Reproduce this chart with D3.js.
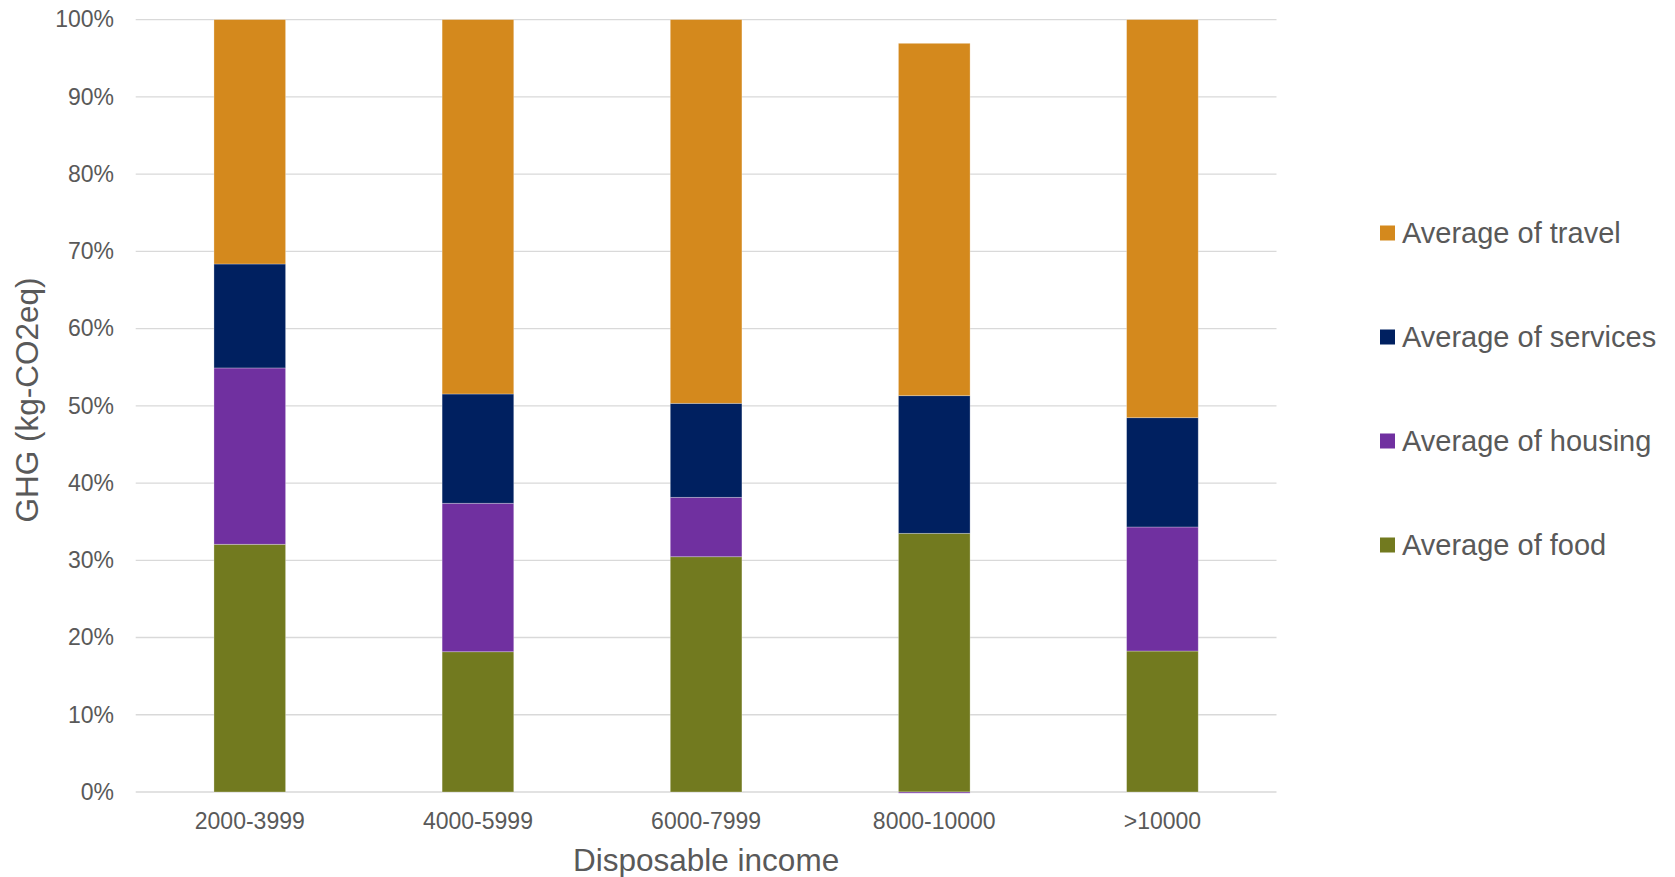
<!DOCTYPE html>
<html>
<head>
<meta charset="utf-8">
<script src="https://cdn.jsdelivr.net/npm/d3@7"></script>
<style>
  html, body { margin: 0; padding: 0; background: #fff; }
  svg { display: block; font-family: "Liberation Sans", Arial, sans-serif; }
</style>
</head>
<body>
<svg id="chart" width="1675" height="877"></svg>
<script>
const categories = ["2000-3999", "4000-5999", "6000-7999", "8000-10000", ">10000"];
const food     = [32.07, 18.16, 30.46, 33.49, 18.25];
const housing  = [22.83, 19.22,  7.69, -0.15, 16.06];
const services = [13.46, 14.15, 12.17, 17.82, 14.15];
const travel   = [31.64, 48.47, 49.68, 45.62, 51.54];
const seriesNames = ["Average of food", "Average of housing", "Average of services", "Average of travel"];
const seriesColors = ["#727A1F", "#7030A0", "#002060", "#D4891D"];
const yTicks = [0, 10, 20, 30, 40, 50, 60, 70, 80, 90, 100];

const keys = ["food", "housing", "services", "travel"];
const rows = categories.map((c, i) => ({
  cat: c, food: food[i], housing: housing[i], services: services[i], travel: travel[i]
}));

const svg = d3.select("#chart");
const margin = { left: 135.7, right: 1276.5, top: 19.6, bottom: 792 };
const textColor = "#595959";

const x = d3.scaleBand().domain(categories).range([margin.left, margin.right]).paddingInner(0.686).paddingOuter(0.343);
const y = d3.scaleLinear().domain([0, 100]).range([margin.bottom, margin.top]);

// gridlines
svg.append("g").selectAll("line").data(yTicks).join("line")
  .attr("x1", margin.left).attr("x2", margin.right)
  .attr("y1", d => y(d)).attr("y2", d => y(d))
  .attr("stroke", "#D9D9D9").attr("stroke-width", 1.3);

// y axis labels
const yAxis = d3.axisLeft(y).tickValues(yTicks).tickFormat(d => d + "%").tickSize(0).tickPadding(0);
const yg = svg.append("g").attr("transform", `translate(114,0)`).call(yAxis);
yg.select(".domain").remove();
yg.selectAll("text").attr("fill", textColor).attr("font-size", 23)
  .attr("font-family", "Liberation Sans, Arial, sans-serif");

// stacked bars
const stack = d3.stack().keys(keys).offset(d3.stackOffsetDiverging);
const stacked = stack(rows);
svg.append("g").selectAll("g").data(stacked).join("g")
  .attr("fill", (d, i) => seriesColors[i])
  .selectAll("rect").data(d => d).join("rect")
  .attr("x", d => x(d.data.cat))
  .attr("width", x.bandwidth())
  .attr("y", d => y(Math.max(d[0], d[1])))
  .attr("height", d => Math.abs(y(d[0]) - y(d[1])))
  .attr("stroke", "#ffffff").attr("stroke-opacity", 0.35).attr("stroke-width", 0.8);

// x axis labels
const xAxis = d3.axisBottom(x).tickSize(0).tickPadding(0);
const xg = svg.append("g").attr("transform", `translate(0,813)`).call(xAxis);
xg.select(".domain").remove();
xg.selectAll("text").attr("fill", textColor).attr("font-size", 23).attr("dy", "0.71em")
  .attr("font-family", "Liberation Sans, Arial, sans-serif");

// axis titles
svg.append("text").attr("x", (margin.left + margin.right) / 2).attr("y", 871)
  .attr("text-anchor", "middle").attr("font-size", 31.5).attr("fill", textColor)
  .text("Disposable income");
svg.append("text").attr("transform", "translate(38,400) rotate(-90)")
  .attr("text-anchor", "middle").attr("font-size", 31.5).attr("fill", textColor)
  .text("GHG (kg-CO2eq)");

// legend (reverse order)
const legendOrder = [3, 2, 1, 0];
const lg = svg.append("g").selectAll("g").data(legendOrder).join("g")
  .attr("transform", (d, i) => `translate(1380,${233 + i * 104})`);
lg.append("rect").attr("x", 0).attr("y", -7.5).attr("width", 15).attr("height", 15)
  .attr("fill", d => seriesColors[d]);
lg.append("text").attr("x", 22).attr("y", 0).attr("dy", "0.35em")
  .attr("font-size", 29).attr("fill", textColor).text(d => seriesNames[d]);
</script>
</body>
</html>
